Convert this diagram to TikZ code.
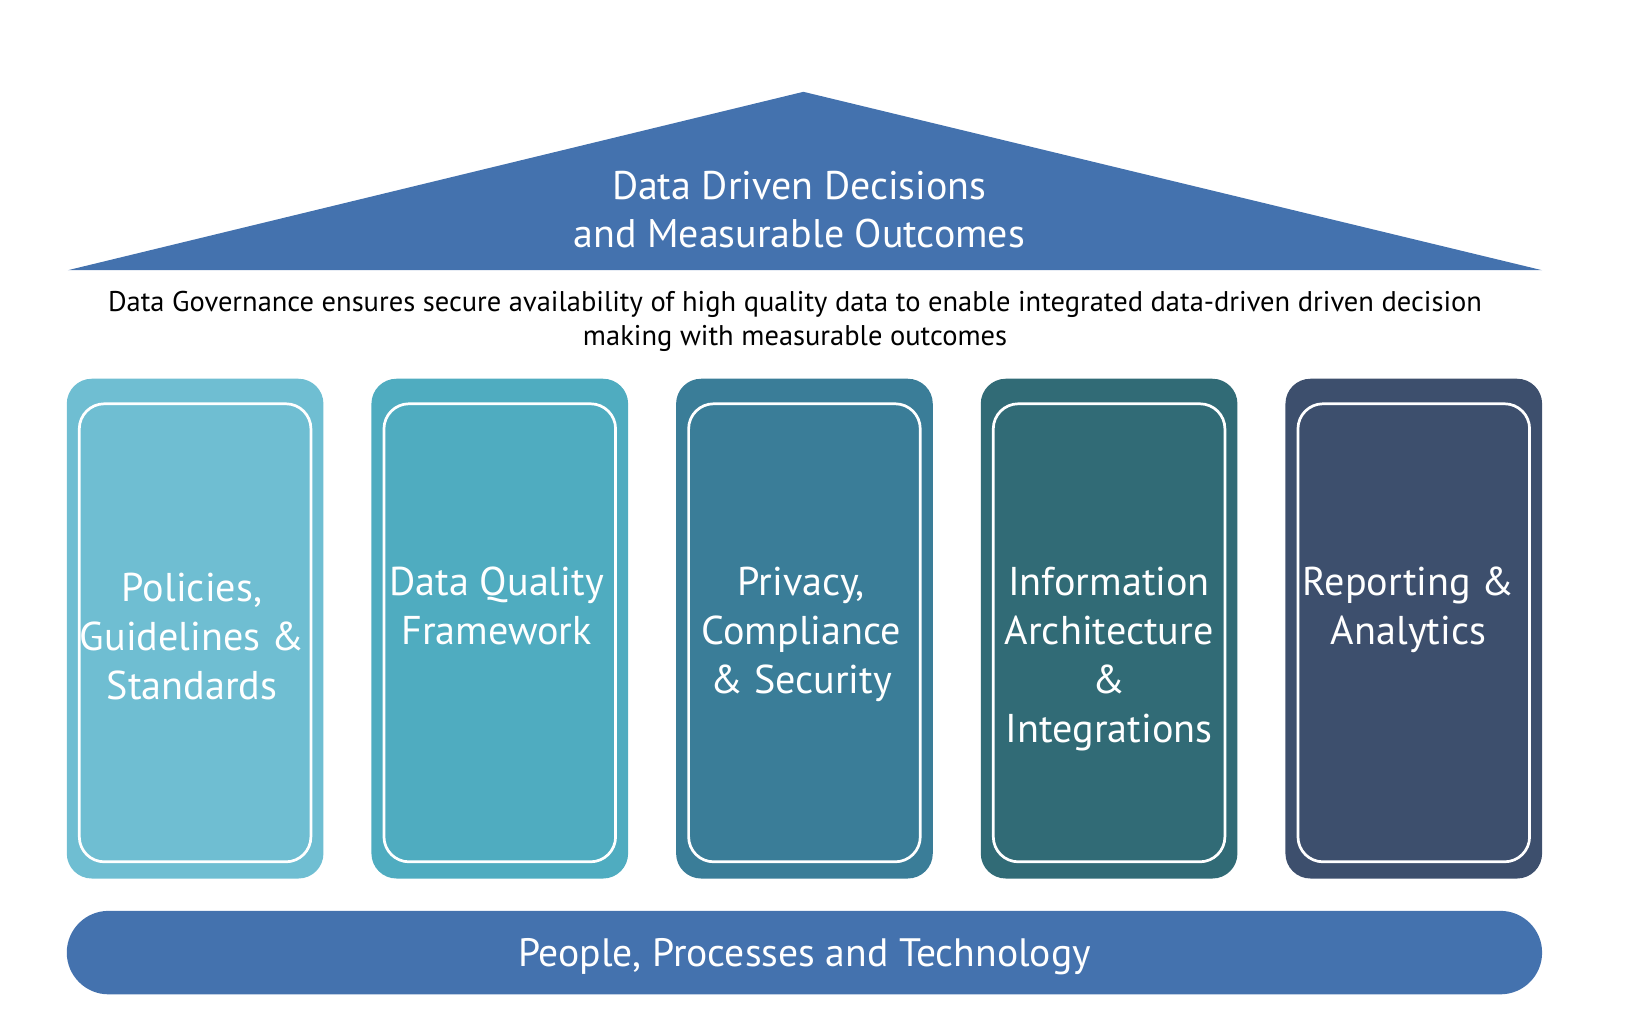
\documentclass[tikz,border=0pt]{standalone}
\usepackage{fontspec}
\setmainfont{PT Sans}
\definecolor{roofblue}{HTML}{4472AE}
\definecolor{pA}{HTML}{6FBED2}
\definecolor{pB}{HTML}{4FACC0}
\definecolor{pC}{HTML}{3A7D98}
\definecolor{pD}{HTML}{316B76}
\definecolor{pE}{HTML}{3D4F6D}
\begin{document}
\begin{tikzpicture}[x=1pt,y=-1pt,
  inner/.style={rounded corners=24pt, draw=white, line width=2.6pt},
  ptext/.style={text=white, align=center, font=\fontsize{38.5}{47}\selectfont},
]
\useasboundingbox (0,0) rectangle (1568,973);
% roof
\fill[roofblue] (65,259) -- (770,88) -- (1478,259) -- cycle;
\node[text=white, align=center, font=\fontsize{38.3}{46}\selectfont] (title) at (766,201) {Data Driven Decisions\\and Measurable Outcomes};
\node[text=black, align=center, font=\fontsize{27.3}{33}\selectfont] (desc) at (762,308) {Data Governance ensures secure availability of high quality data to enable integrated data-driven driven decision\\making with measurable outcomes};
% pillars
\foreach \x/\c [count=\i] in {64/pA,356/pB,648/pC,940/pD,1232/pE}{
  \fill[\c, rounded corners=24pt] (\x,363) rectangle ++(246,479);
  \draw[inner] (\x+12,387) rectangle ++(222,439);
}
\node[ptext] (p1) at (184,610) {Policies,\\Guidelines \&\\Standards};
\node[ptext] (p2) at (476,580.5) {Data Quality\\Framework};
\node[ptext] (p3) at (768,608) {Privacy,\\Compliance\\\& Security};
\node[ptext] (p4) at (1063,631.5) {Information\\Architecture\\\&\\Integrations};
\node[ptext] (p5) at (1350,584.5) {Reporting \&\\Analytics};
% base
\fill[roofblue, rounded corners=40pt] (64,873) rectangle (1478,953);
\node[text=white, font=\fontsize{38}{44}\selectfont] (base) at (771,917) {People, Processes and Technology};
\end{tikzpicture}
\end{document}
